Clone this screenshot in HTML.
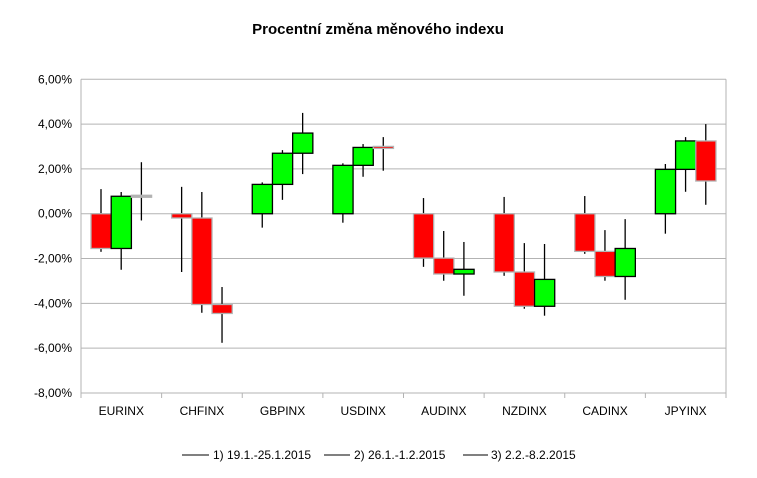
<!DOCTYPE html>
<html><head><meta charset="utf-8"><style>
body{margin:0;background:#fff;font-family:"Liberation Sans",Arial,sans-serif}
svg text{font-family:"Liberation Sans",Arial,sans-serif}
</style></head><body>
<svg id="chart" width="757" height="473" xmlns="http://www.w3.org/2000/svg">
<rect width="757" height="473" fill="#fff"/>
<text x="378" y="34" text-anchor="middle" font-size="15" font-weight="bold" fill="#000">Procentní změna měnového indexu</text>
<g id="grid"></g><g id="marks"></g><g id="axes"></g>
<g>
<line x1="182" y1="455" x2="209" y2="455" stroke="#000" stroke-width="1"/>
<text x="213" y="459" font-size="12">1) 19.1.-25.1.2015</text>
<line x1="324" y1="455" x2="350" y2="455" stroke="#000" stroke-width="1"/>
<text x="354" y="459" font-size="12">2) 26.1.-1.2.2015</text>
<line x1="463" y1="455" x2="488" y2="455" stroke="#000" stroke-width="1"/>
<text x="491" y="459" font-size="12">3) 2.2.-8.2.2015</text>
</g>
</svg>
<script>
const categories=["EURINX","CHFINX","GBPINX","USDINX","AUDINX","NZDINX","CADINX","JPYINX"];
const closes=[[-1.55,0.78,0.76],[-0.19,-4.05,-4.45],[1.31,2.7,3.6],[2.16,2.96,2.92],[-1.98,-2.69,-2.48],[-2.6,-4.13,-2.93],[-1.68,-2.8,-1.55],[1.98,3.25,1.46]];
const highs=[[1.1,0.97,2.3],[1.2,0.97,-3.27],[1.4,2.84,4.5],[2.25,3.11,3.42],[0.7,-0.77,-1.26],[0.75,-1.31,-1.35],[0.79,-0.73,-0.24],[2.22,3.42,4.0]];
const lows=[[-1.7,-2.5,-0.3],[-2.6,-4.42,-5.76],[-0.62,0.62,1.77],[-0.4,1.65,1.92],[-2.37,-2.99,-3.66],[-2.77,-4.24,-4.55],[-1.79,-2.99,-3.84],[-0.89,0.98,0.4]];
const yTicks=[6,4,2,0,-2,-4,-6,-8];
const yTickLabels=["6,00%","4,00%","2,00%","0,00%","-2,00%","-4,00%","-6,00%","-8,00%"];
const NS="http://www.w3.org/2000/svg";
const L=81,R=726,T=79.3,B=393,yMax=6,yMin=-8;
const y=v=>T+(yMax-v)/(yMax-yMin)*(B-T);
const cw=(R-L)/categories.length;
const x=(i,j)=>L+i*cw+10+j*20.2;
function mk(tag,attrs,parent){const e=document.createElementNS(NS,tag);for(const k in attrs)e.setAttribute(k,attrs[k]);parent.appendChild(e);return e;}
const grid=document.getElementById('grid'),marks=document.getElementById('marks'),axes=document.getElementById('axes');
yTicks.forEach((t,i)=>{
 const g=mk('line',{x1:L,x2:R,y1:y(t),y2:y(t),stroke:'#b3b3b3','stroke-width':1},grid);
 
 
 const tx=mk('text',{x:L-9,y:y(t)+4,'text-anchor':'end','font-size':12,fill:'#000'},axes);
 tx.textContent=yTickLabels[i];
 
 
});
mk('line',{x1:L,x2:L,y1:T,y2:B+5,stroke:'#b3b3b3'},axes);
mk('line',{x1:R,x2:R,y1:T,y2:B+5,stroke:'#b3b3b3'},axes);
for(let i=0;i<=categories.length;i++){mk('line',{x1:L+i*cw,x2:L+i*cw,y1:B,y2:B+5,stroke:'#b3b3b3'},axes);}
categories.forEach((c,i)=>{
 const tx=mk('text',{x:L+i*cw+cw/2,y:B+22,'text-anchor':'middle','font-size':12,fill:'#000'},axes);
 tx.textContent=c;
 
 
 let open=0;
 for(let j=0;j<3;j++){
  const cl=closes[i][j],cx=x(i,j)+10;
  const w=mk('line',{x1:cx,x2:cx,y1:y(highs[i][j]),y2:y(lows[i][j]),stroke:'#000','stroke-width':1.3},marks);
  
  
  const up=cl>open, flat=Math.abs(cl-open)<0.03;
  const top=Math.min(y(open),y(cl));let h=Math.abs(y(open)-y(cl));
  const b=mk('rect',{x:x(i,j),y:top-(h<2?1:0),width:20.2,height:Math.max(h,2),fill:flat?'#b3b3b3':(up?'#00ff00':'#ff0000'),stroke:up&&!flat?'#000':'#b3b3b3','stroke-width':1.3},marks);
  
  
  open=cl;
 }
});
</script>
</body></html>
